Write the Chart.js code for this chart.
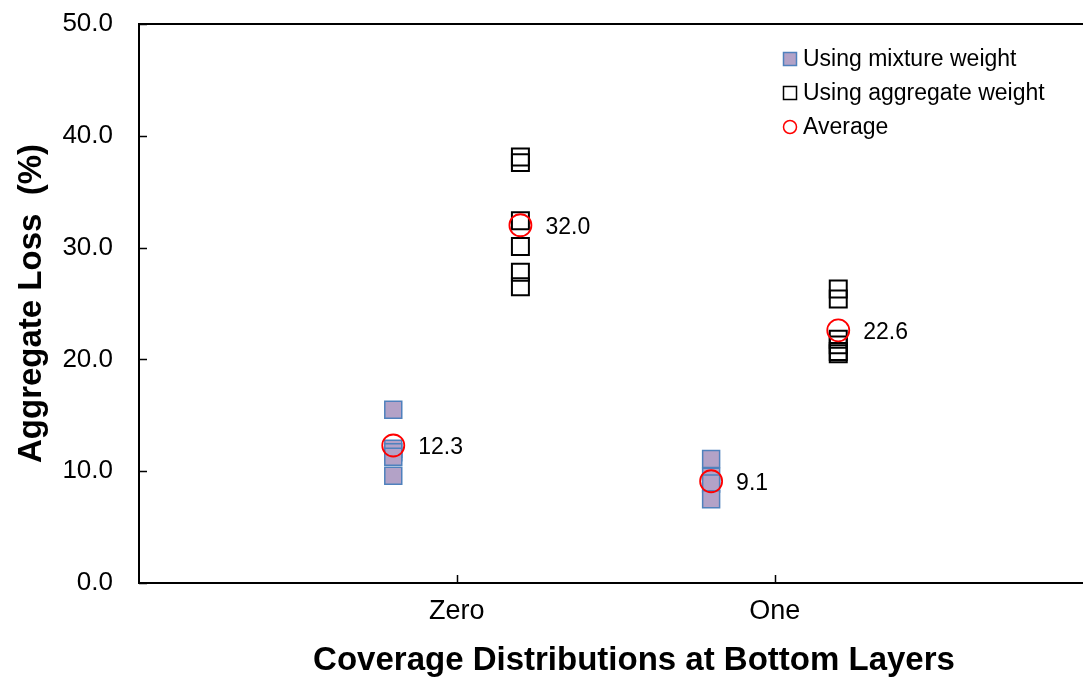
<!DOCTYPE html>
<html>
<head>
<meta charset="utf-8">
<script src="https://cdn.jsdelivr.net/npm/chart.js@4/dist/chart.umd.min.js"></script>
<style>
    html, body { margin: 0; padding: 0; background: #fff; overflow: hidden; }
    canvas { display: block; }
</style>
</head>
<body>
<canvas id="chart" width="1083" height="677"></canvas>
<script>
(function () {

    // data
    var categories = ['Zero', 'One'];
    var mixtureZero = [15.5, 12.0, 11.7, 11.3, 9.6];
    var mixtureOne = [11.1, 9.5, 8.9, 7.5];
    var aggregateZero = [38.1, 37.6, 32.4, 30.1, 27.8, 26.5];
    var aggregateOne = [26.3, 25.4, 21.8, 21.3, 20.7, 20.5];
    var averageMixture = [12.3, 9.1];
    var averageAggregate = [32.0, 22.6];
    var yTicks = [0, 10, 20, 30, 40, 50];

    var shift = 0.2; // side offset of the two groups around each category

    function toPoints(values, cat, side) {
        return values.map(function (v) {
            return {x: cat + 1 + side * shift, y: v};
        });
    }

    var mixturePoints = toPoints(mixtureZero, 0, -1).concat(toPoints(mixtureOne, 1, -1));
    var aggregatePoints = toPoints(aggregateZero, 0, 1).concat(toPoints(aggregateOne, 1, 1));
    var averagePoints = [];
    categories.forEach(function (c, i) {
        averagePoints.push({x: i + 1 - shift, y: averageMixture[i]});
        averagePoints.push({x: i + 1 + shift, y: averageAggregate[i]});
    });

    var font = 'Liberation Sans, Arial, sans-serif';
    var xTitle = 'Coverage Distributions at Bottom Layers';

    var legendItems = [
        {text: 'Using mixture weight', type: 'rect', fill: '#b3a2c7', stroke: '#4f81bd', width: 1.5},
        {text: 'Using aggregate weight', type: 'rect', fill: null, stroke: '#000000', width: 1.5},
        {text: 'Average', type: 'circle', fill: null, stroke: '#ff0000', width: 1.5}
    ];

    var decor = {
        id: 'decor',
        afterDraw: function (chart) {
            var ctx = chart.ctx;
            var area = chart.chartArea;
            var xs = chart.scales.x;
            var ys = chart.scales.y;

            ctx.save();
            ctx.strokeStyle = '#000';

            // top frame line
            ctx.lineWidth = 2;
            ctx.beginPath();
            ctx.moveTo(area.left - 1, area.top);
            ctx.lineTo(chart.width, area.top);
            ctx.stroke();

            // inside tick marks
            ctx.lineWidth = 1.5;
            ctx.beginPath();
            ys.ticks.forEach(function (t) {
                var y = Math.round(ys.getPixelForValue(t.value)) + 0.5;
                ctx.moveTo(area.left, y);
                ctx.lineTo(area.left + 8, y);
            });
            xs.ticks.forEach(function (t) {
                var x = Math.round(xs.getPixelForValue(t.value)) + 0.5;
                ctx.moveTo(x, area.bottom);
                ctx.lineTo(x, area.bottom - 8);
            });
            ctx.stroke();

            // x axis title, sits a little right of the plot centre
            ctx.fillStyle = '#000';
            ctx.textAlign = 'center';
            ctx.textBaseline = 'middle';
            ctx.font = 'bold 33px ' + font;
            ctx.fillText(xTitle, 634, 661);

            // average labels
            ctx.font = '23px ' + font;
            ctx.textAlign = 'left';
            averagePoints.forEach(function (p) {
                ctx.fillText(p.y.toFixed(1), xs.getPixelForValue(p.x) + 25, ys.getPixelForValue(p.y) + 2);
            });

            // legend
            var lx = 790, ly = 59, step = 34;
            legendItems.forEach(function (item, i) {
                var y = ly + i * step;
                ctx.lineWidth = item.width;
                ctx.strokeStyle = item.stroke;
                ctx.beginPath();
                if (item.type === 'rect') {
                    ctx.rect(lx - 6.5, y - 6.5, 13, 13);
                } else {
                    ctx.arc(lx, y, 6.5, 0, Math.PI * 2);
                }
                if (item.fill) {
                    ctx.fillStyle = item.fill;
                    ctx.fill();
                }
                ctx.stroke();
                ctx.fillStyle = '#000';
                ctx.fillText(item.text, lx + 13, y + 1);
            });

            ctx.restore();
        }
    };

    new Chart(document.getElementById('chart'), {
        type: 'scatter',
        data: {
            datasets: [{
                label: 'Using mixture weight',
                data: mixturePoints,
                pointStyle: 'rect',
                pointRadius: 12,
                pointHoverRadius: 12,
                backgroundColor: '#b3a2c7',
                borderColor: '#4f81bd',
                borderWidth: 1.5,
                order: 3
            }, {
                label: 'Using aggregate weight',
                data: aggregatePoints,
                pointStyle: 'rect',
                pointRadius: 12,
                pointHoverRadius: 12,
                backgroundColor: 'rgba(0,0,0,0)',
                borderColor: '#000000',
                borderWidth: 2,
                order: 2
            }, {
                label: 'Average',
                data: averagePoints,
                pointStyle: 'circle',
                pointRadius: 11,
                pointHoverRadius: 11,
                backgroundColor: 'rgba(0,0,0,0)',
                borderColor: '#ff0000',
                borderWidth: 1.8,
                order: 1
            }]
        },
        options: {
            responsive: false,
            animation: false,
            layout: {
                autoPadding: false,
                padding: {top: 24, right: 0, left: 0, bottom: 0}
            },
            plugins: {
                legend: {display: false},
                tooltip: {enabled: false}
            },
            scales: {
                x: {
                    type: 'linear',
                    min: 0,
                    max: 2.97,
                    afterBuildTicks: function (scale) {
                        scale.ticks = categories.map(function (c, i) {
                            return {value: i + 1};
                        });
                    },
                    afterFit: function (scale) {
                        scale.height = 94;
                        scale.paddingLeft = 0;
                        scale.paddingRight = 0;
                    },
                    ticks: {
                        color: '#000',
                        padding: 12,
                        maxRotation: 0,
                        font: {family: font, size: 27},
                        callback: function (v) {
                            return categories[v - 1];
                        }
                    },
                    grid: {display: false, drawTicks: false},
                    border: {display: true, color: '#000', width: 2}
                },
                y: {
                    min: 0,
                    max: 50,
                    afterBuildTicks: function (scale) {
                        scale.ticks = yTicks.map(function (v) {
                            return {value: v};
                        });
                    },
                    afterFit: function (scale) {
                        scale.width = 139;
                        scale.paddingTop = 0;
                        scale.paddingBottom = 0;
                    },
                    ticks: {
                        color: '#000',
                        padding: 26,
                        font: {family: font, size: 26},
                        callback: function (v) {
                            return v.toFixed(1);
                        }
                    },
                    grid: {display: false, drawTicks: false},
                    border: {display: true, color: '#000', width: 2},
                    title: {
                        display: true,
                        text: 'Aggregate Loss  (%)',
                        color: '#000',
                        font: {family: font, size: 33, weight: 'bold', lineHeight: 1},
                        padding: {top: 15, bottom: 0}
                    }
                }
            }
        },
        plugins: [decor]
    });

})();
</script>
</body>
</html>
